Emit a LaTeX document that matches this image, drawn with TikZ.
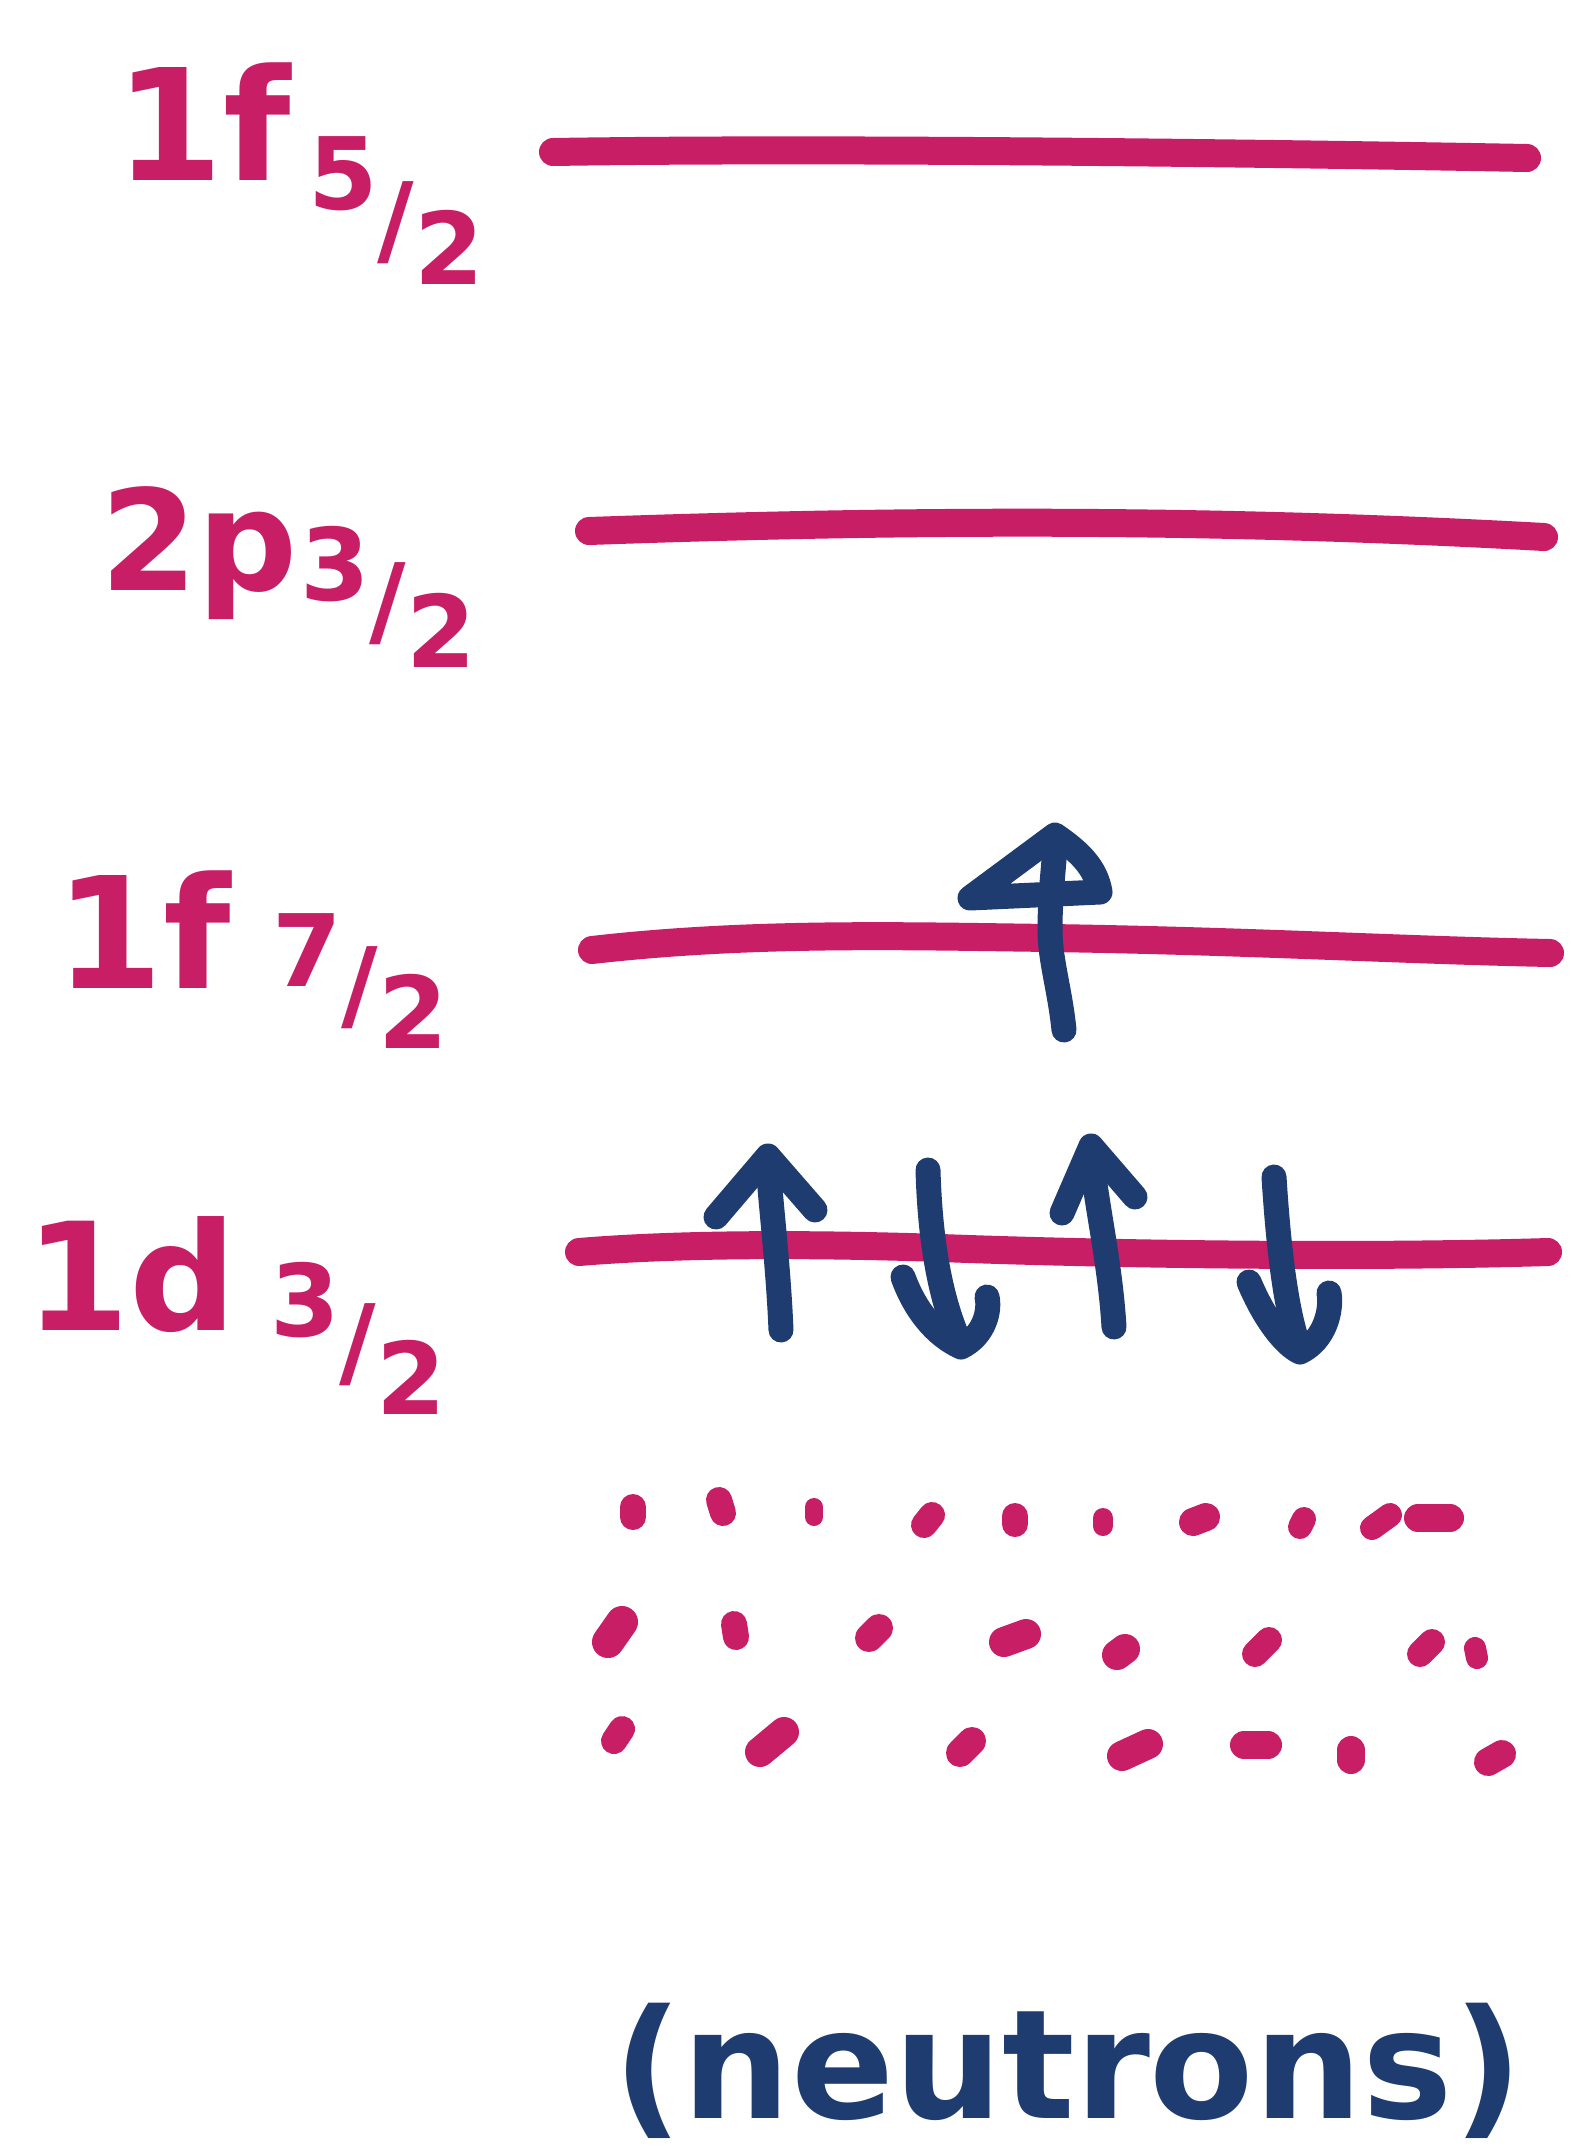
\documentclass[tikz,border=0pt]{standalone}
\usepackage{fontspec}
\setmainfont{DejaVu Sans}
\definecolor{pen}{RGB}{200,30,102}
\definecolor{ink}{RGB}{30,60,112}
\newcommand{\stair}[5]{#1\raisebox{-#4em}{#2}\raisebox{-#5em}{#3}}
\begin{document}
\begin{tikzpicture}[x=1pt,y=-1pt,
  shell/.style={draw=pen,line width=28pt,line cap=round,line join=round},
  spin/.style={draw=ink,line width=25pt,line cap=round,line join=round},
  dotm/.style={draw=pen,line cap=round,line width=#1},
  dotm/.default=26pt,
  lab/.style={text=pen,font=\bfseries\fontsize{#1}{#1}\selectfont,inner sep=0pt,anchor=base west},
  subl/.style={text=pen,font=\bfseries\fontsize{100}{100}\selectfont,inner sep=0pt,anchor=base west},
]
\useasboundingbox[fill=white] (0,0) rectangle (1572,2152);

% levels
\draw[shell] (553,152) .. controls (800,148) and (1200,152) .. (1527,158);
\draw[shell] (589,531) .. controls (900,520) and (1200,518) .. (1544,537);
\draw[shell] (592,950) .. controls (750,932) and (900,936) .. (1050,938) .. controls (1250,941) and (1400,950) .. (1550,953);
\draw[shell] (579,1252) .. controls (700,1242) and (850,1245) .. (941,1248) .. controls (1100,1254) and (1350,1258) .. (1548,1252);

% labels
\node[lab=155] (l1) at (115,180) {1f};
\node[subl] (s1) at (308,209) {\stair{5}{/}{2}{0.45}{0.75}};

\node[lab=140] (l2) at (100,590) {2p};
\node[subl] (s2) at (300,600) {\stair{3}{/}{2}{0.35}{0.67}};

\node[lab=155] (l3) at (55,988) {1f};
\node[subl] (s3) at (272,986) {\stair{7}{/}{2}{0.33}{0.62}};

\node[lab=150] (l4) at (25,1330) {1d};
\node[subl] (s4) at (270,1336) {\stair{3}{/}{2}{0.4}{0.78}};

% spin on 1f7/2
\draw[spin] (1064,1030) .. controls (1060,990) and (1050,960) .. (1050,930) .. controls (1050,890) and (1055,860) .. (1055,840);
\draw[spin] (1055,835) -- (970,898) -- (1100,892) .. controls (1096,868) and (1080,852) .. (1055,835);

% spins on 1d3/2
\draw[spin] (781,1330) .. controls (778,1260) and (770,1200) .. (768,1160);
\draw[spin] (716,1217) -- (768,1156) -- (815,1210);
\draw[spin] (928,1170) .. controls (930,1240) and (940,1300) .. (961,1345);
\draw[spin] (903,1277) .. controls (915,1310) and (935,1335) .. (961,1347) .. controls (985,1335) and (990,1310) .. (987,1297);
\draw[spin] (1114,1327) .. controls (1110,1260) and (1095,1200) .. (1091,1150);
\draw[spin] (1062,1213) -- (1091,1146) -- (1135,1197);
\draw[spin] (1274,1177) .. controls (1278,1240) and (1285,1310) .. (1300,1350);
\draw[spin] (1249,1282) .. controls (1265,1320) and (1285,1345) .. (1300,1352) .. controls (1325,1340) and (1332,1310) .. (1329,1293);

% dotted lower levels
\draw[dotm] (633,1507) -- (633,1517);
\draw[dotm] (719,1500) -- (723,1513);
\draw[dotm=18pt] (814,1507) -- (814,1517);
\draw[dotm] (924,1525) -- (932,1515);
\draw[dotm] (1015,1516) -- (1015,1524);
\draw[dotm=20pt] (1103,1518) -- (1103,1526);
\draw[dotm=28pt] (1193,1522) -- (1206,1517);
\draw[dotm=24pt] (1300,1527) -- (1304,1519);
\draw[dotm=24pt] (1372,1528) -- (1390,1515);
\draw[dotm=28pt] (1418,1518) -- (1450,1518);

\draw[dotm=32pt] (608,1642) -- (622,1622);
\draw[dotm] (734,1624) -- (736,1637);
\draw[dotm=28pt] (869,1638) -- (879,1628);
\draw[dotm=30pt] (1004,1642) -- (1026,1634);
\draw[dotm=30pt] (1117,1655) -- (1125,1649);
\draw[dotm] (1255,1654) -- (1269,1640);
\draw[dotm] (1420,1654) -- (1432,1642);
\draw[dotm=22pt] (1475,1648) -- (1477,1658);

\draw[dotm] (614,1741) -- (622,1729);
\draw[dotm=30pt] (760,1752) -- (784,1732);
\draw[dotm=28pt] (960,1753) -- (972,1741);
\draw[dotm=30pt] (1122,1756) -- (1148,1744);
\draw[dotm=28pt] (1244,1745) -- (1268,1745);
\draw[dotm=28pt] (1351,1750) -- (1351,1760);
\draw[dotm=28pt] (1488,1762) -- (1502,1754);

% caption
\node[text=ink,font=\bfseries\fontsize{152}{152}\selectfont,inner sep=0pt,anchor=base] (cap) at (1068,2118) {(neutrons)};
\end{tikzpicture}
\end{document}
